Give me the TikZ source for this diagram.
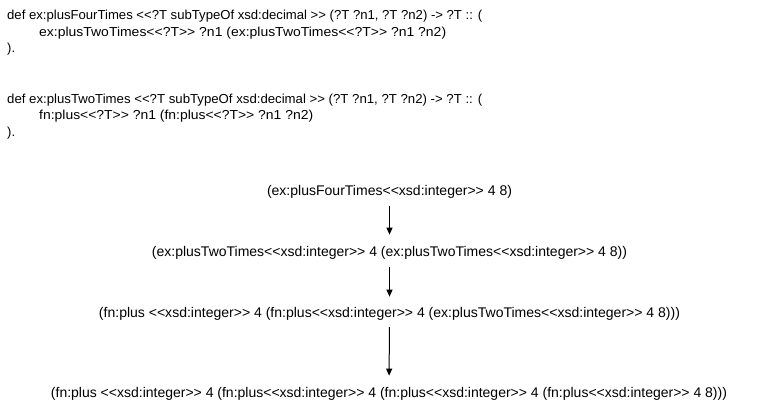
\documentclass[tikz,border=0pt]{standalone}
\usepackage{fontspec}
\setmainfont{Liberation Sans}
\usetikzlibrary{arrows.meta}
\begin{document}
\begin{tikzpicture}[x=1pt,y=-1pt,
  codeline/.style={anchor=base west,inner sep=0pt,font=\fontsize{13}{15}\selectfont},
  evalline/.style={anchor=base,inner sep=0pt,font=\fontsize{14}{16}\selectfont},
  arr/.style={-{Triangle[length=7pt,width=6pt]},line width=1pt}]
\useasboundingbox[fill=white] (0,0) rectangle (770,413);
% definitions
\node[codeline] (d1a) at (7,19) {\resizebox{475pt}{\height}{def ex:plusFourTimes <{}<?T subTypeOf xsd:decimal >{}> (?T ?n1, ?T ?n2) -> ?T :: (}};
\node[codeline] (d1b) at (39,36) {\resizebox{407pt}{\height}{ex:plusTwoTimes<{}<?T>{}> ?n1 (ex:plusTwoTimes<{}<?T>{}> ?n1 ?n2)}};
\node[codeline] (d1c) at (7,52) {).};
\node[codeline] (d2a) at (7,103) {\resizebox{475pt}{\height}{def ex:plusTwoTimes <{}<?T subTypeOf xsd:decimal >{}> (?T ?n1, ?T ?n2) -> ?T :: (}};
\node[codeline] (d2b) at (39,119) {\resizebox{274pt}{\height}{fn:plus<{}<?T>{}> ?n1 (fn:plus<{}<?T>{}> ?n1 ?n2)}};
\node[codeline] (d2c) at (7,136) {).};
% evaluation steps
\node[evalline] (e1) at (389.5,195) {\resizebox{245pt}{\height}{(ex:plusFourTimes<{}<xsd:integer>{}> 4 8)}};
\node[evalline] (e2) at (389.5,256) {\resizebox{475pt}{\height}{(ex:plusTwoTimes<{}<xsd:integer>{}> 4 (ex:plusTwoTimes<{}<xsd:integer>{}> 4 8))}};
\node[evalline] (e3) at (389.5,317) {\resizebox{581pt}{\height}{(fn:plus <{}<xsd:integer>{}> 4 (fn:plus<{}<xsd:integer>{}> 4 (ex:plusTwoTimes<{}<xsd:integer>{}> 4 8)))}};
\node[evalline] (e4) at (389,397) {\resizebox{676pt}{\height}{(fn:plus <{}<xsd:integer>{}> 4 (fn:plus<{}<xsd:integer>{}> 4 (fn:plus<{}<xsd:integer>{}> 4 (fn:plus<{}<xsd:integer>{}> 4 8)))}};
\draw[arr,shorten <=8pt,shorten >=11pt] (e1) -- (e2);
\draw[arr,shorten <=8pt,shorten >=10pt] (e2) -- (e3);
\draw[arr,shorten <=7pt,shorten >=11pt] (e3) -- (e4);
\end{tikzpicture}
\end{document}
